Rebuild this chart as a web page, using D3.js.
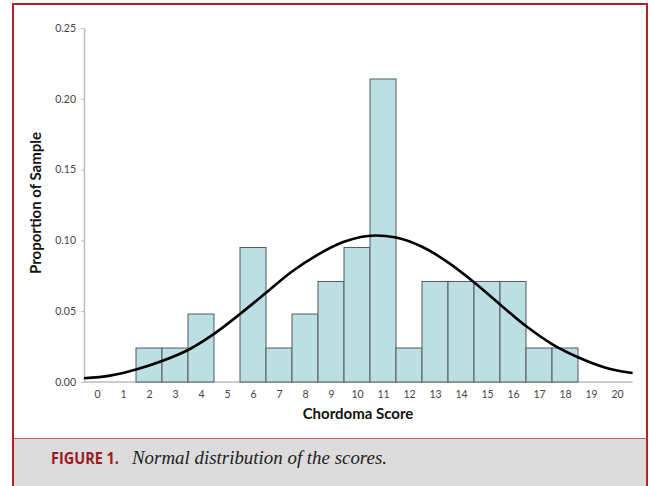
<!DOCTYPE html>
<html>
<head>
<meta charset="utf-8">
<script src="https://cdn.jsdelivr.net/npm/d3@7/dist/d3.min.js"></script>
<style>
  html, body { margin: 0; padding: 0; background: #ffffff; }
  svg { display: block; }
</style>
</head>
<body>
<svg id="chart" width="653" height="486"></svg>
<script>
// ---- data ----
const scores = [0,1,2,3,4,5,6,7,8,9,10,11,12,13,14,15,16,17,18,19,20];
const proportions = [0,0,0.024,0.024,0.048,0,0.095,0.024,0.048,0.071,0.095,0.214,0.024,0.071,0.071,0.071,0.071,0.024,0.024,0,0];
const curveX = [-0.5,0.5,1.5,2.5,3.5,4.5,5.5,6.5,7.5,8.5,9.5,10.7,11.5,12.5,13.5,14.5,15.5,16.5,17.5,18.5,19.5,20.6];
const curveY = [0.0026,0.0045,0.0088,0.0148,0.0226,0.034,0.048,0.063,0.078,0.090,0.099,0.1035,0.102,0.0955,0.0845,0.0705,0.0548,0.0395,0.0268,0.0175,0.0105,0.0063];
const yTicks = [0,0.05,0.10,0.15,0.20,0.25];
const xLabel = "Chordoma Score";
const yLabel = "Proportion of Sample";
const captionHead = "FIGURE 1.";
const captionText = "Normal distribution of the scores.";

const svg = d3.select("#chart");
const red = "#b0232a";

// caption band
svg.append("rect").attr("x", 13).attr("y", 438).attr("width", 634).attr("height", 60).attr("fill", "#dcdcdc");
svg.append("line").attr("x1", 13).attr("x2", 647).attr("y1", 438.5).attr("y2", 438.5).attr("stroke", "#c65a5a").attr("stroke-width", 1);
// frame
svg.append("rect").attr("x", 13).attr("y", 4).attr("width", 634).attr("height", 500)
  .attr("fill", "none").attr("stroke", red).attr("stroke-width", 2);

const x = d3.scaleLinear().domain([-0.5, 20.5]).range([84, 630]);
const y = d3.scaleLinear().domain([0, 0.25]).range([382, 28]);

// axes
const yAxis = svg.append("g").attr("transform", "translate(84,0)")
  .call(d3.axisLeft(y).tickValues(yTicks).tickFormat(d3.format(".2f")).tickSize(3).tickSizeOuter(0).tickPadding(5));
yAxis.select(".domain").attr("stroke", "#bdbdbd").attr("stroke-width", 1.5);
yAxis.selectAll(".tick line").attr("stroke", "#bdbdbd");
yAxis.selectAll(".tick text").attr("fill", "#444").style("font-family", "Lato, sans-serif").style("font-size", "10.5px");

const xAxis = svg.append("g").attr("transform", "translate(0,382)")
  .call(d3.axisBottom(x).tickValues(scores).tickSize(0).tickPadding(9).tickSizeOuter(0));
xAxis.select(".domain").attr("d", `M${x(-0.5)},0H${x(20.6)}`).attr("stroke", "#bdbdbd").attr("stroke-width", 1.5);
xAxis.selectAll(".tick text").attr("fill", "#444").style("font-family", "Lato, sans-serif").style("font-size", "10.5px");

// bars
svg.append("g").selectAll("rect")
  .data(scores.map((s, i) => ({s, v: proportions[i]})).filter(d => d.v > 0))
  .join("rect")
  .attr("x", d => x(d.s - 0.5))
  .attr("y", d => y(d.v))
  .attr("width", d => x(d.s + 0.5) - x(d.s - 0.5))
  .attr("height", d => y(0) - y(d.v))
  .attr("fill", "#bcdfe3")
  .attr("stroke", "#4f5b5c")
  .attr("stroke-width", 1);

// normal curve
const line = d3.line().x(d => x(d[0])).y(d => y(d[1])).curve(d3.curveMonotoneX);
svg.append("path")
  .datum(curveX.map((cx, i) => [cx, curveY[i]]))
  .attr("d", line)
  .attr("fill", "none")
  .attr("stroke", "#000")
  .attr("stroke-width", 2.6);

// axis titles
svg.append("text").attr("x", 358).attr("y", 419).attr("text-anchor", "middle")
  .style("font-family", "Lato, sans-serif").style("font-weight", "bold").style("font-size", "15px")
  .attr("fill", "#111").text(xLabel);
svg.append("text").attr("transform", "translate(41,203) rotate(-90)").attr("text-anchor", "middle")
  .style("font-family", "Lato, sans-serif").style("font-weight", "bold").style("font-size", "15px")
  .attr("fill", "#111").text(yLabel);

// caption
svg.append("text").attr("x", 51).attr("y", 464)
  .style("font-family", "'Open Sans', sans-serif").style("font-weight", "bold").style("font-size", "15.5px")
  .attr("fill", "#9b1b22").attr("textLength", 68).attr("lengthAdjust", "spacingAndGlyphs").text(captionHead);
svg.append("text").attr("x", 132).attr("y", 464)
  .style("font-family", "'Liberation Serif', serif").style("font-style", "italic").style("font-size", "19.5px")
  .attr("fill", "#222").attr("textLength", 255).attr("lengthAdjust", "spacingAndGlyphs").text(captionText);
</script>
</body>
</html>
